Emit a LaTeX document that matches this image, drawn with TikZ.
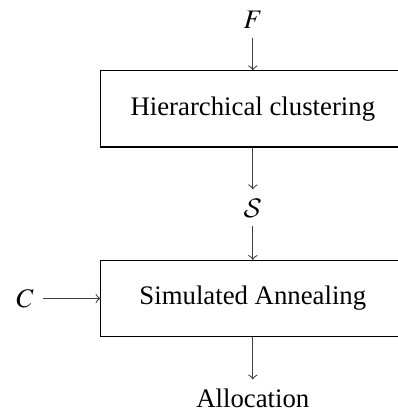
\documentclass[tikz,border=0pt]{standalone}
\usepackage{mathptmx}
\DeclareMathAlphabet{\mathcal}{OMS}{cmsy}{m}{n}
\usepackage{fontspec}
\setmainfont{Liberation Serif}
\usetikzlibrary{positioning}

\begin{document}
\begin{tikzpicture}[
    >=to,
    every node/.style={font=\normalsize},
    stage/.style={draw, minimum width=3.99cm, minimum height=1.0cm},
    flow/.style={->, draw=black!75},
  ]

  % Frame of the page
  \useasboundingbox (0,0) rectangle (5.22,5.41);

  % --- Processing stages ---
  \node[stage] (hc) at (3.32,3.98) {Hierarchical clustering};
  \node[stage] (sa) at (3.32,1.49) {Simulated Annealing};

  % --- Inputs and outputs ---
  \node (F)     at (3.32,5.15) {$F$};
  \node (S)     at (3.32,2.68) {$\mathcal{S}$};
  \node (C)     at (0.33,1.49) {$C$};
  \node (alloc) at (3.32,0.18) {Allocation};

  % --- Arrows ---
  \draw[flow] (F) -- (hc);
  \draw[flow] (hc) -- (S);
  \draw[flow] (S) -- (sa);
  \draw[flow] (C) -- (sa);
  \draw[flow] (sa) -- (alloc);

\end{tikzpicture}
\end{document}
